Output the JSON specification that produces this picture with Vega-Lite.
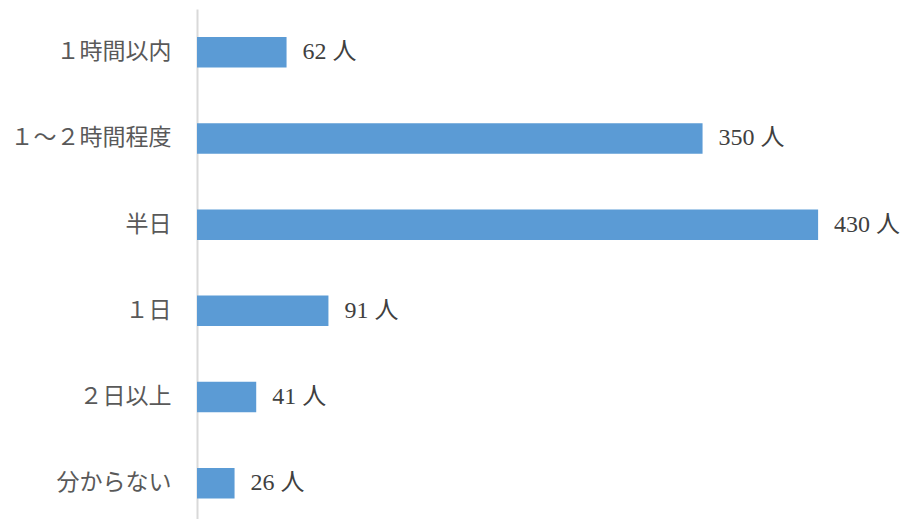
{
  "$schema": "https://vega.github.io/schema/vega-lite/v6.json",
  "autosize": "none",
  "width": 650,
  "height": 510,
  "padding": {"left": 197, "top": 9, "right": 59, "bottom": 0},
  "background": "white",
  "config": {"view": {"stroke": null}},
  "data": {
    "values": [
      {"category": "１時間以内", "count": 62},
      {"category": "１～２時間程度", "count": 350},
      {"category": "半日", "count": 430},
      {"category": "１日", "count": 91},
      {"category": "２日以上", "count": 41},
      {"category": "分からない", "count": 26}
    ]
  },
  "transform": [{"calculate": "datum.count + ' 人'", "as": "label"}],
  "encoding": {
    "y": {
      "field": "category",
      "type": "nominal",
      "sort": null,
      "scale": {"paddingInner": 0.646, "paddingOuter": 0.2814, "align": 0.577},
      "axis": {
        "title": null,
        "ticks": false,
        "labelPadding": 26,
        "labelFontSize": 23,
        "labelFont": "Liberation Serif, Noto Sans CJK JP",
        "labelColor": "#595959",
        "domainColor": "#d9d9d9",
        "domainWidth": 2,
        "grid": false
      }
    },
    "x": {
      "field": "count",
      "type": "quantitative",
      "scale": {"domain": [0, 450]},
      "axis": null
    }
  },
  "layer": [
    {"mark": {"type": "bar", "color": "#5B9BD5"}},
    {
      "mark": {
        "type": "text",
        "align": "left",
        "baseline": "middle",
        "dx": 16,
        "fontSize": 24,
        "font": "Liberation Serif, Noto Sans CJK JP",
        "color": "#404040"
      },
      "encoding": {"text": {"field": "label"}}
    }
  ]
}
